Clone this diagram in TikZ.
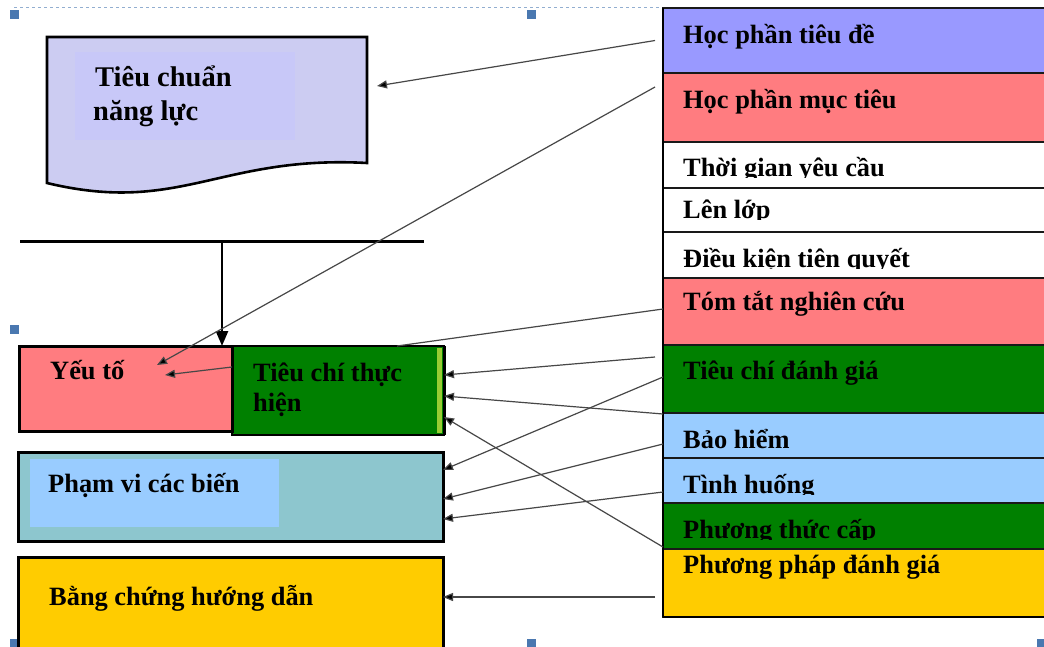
\documentclass[tikz,border=0pt]{standalone}
\usepackage{fontspec}
\setmainfont{Liberation Serif}
\usetikzlibrary{arrows.meta,calc}
\definecolor{cblue}{HTML}{9999FF}
\definecolor{cpink}{HTML}{FF7C80}
\definecolor{cgreen}{HTML}{008000}
\definecolor{clblue}{HTML}{99CCFF}
\definecolor{cyellow}{HTML}{FFCC00}
\definecolor{clav}{HTML}{CCCCF2}
\definecolor{clavin}{HTML}{C8C8F8}
\definecolor{cteal}{HTML}{8DC6CE}
\definecolor{clime}{HTML}{99CC33}
\definecolor{handleblue}{HTML}{4A78B0}
\begin{document}
\begin{tikzpicture}[x=1pt,y=-1pt,
  box/.style={rectangle,anchor=north west,inner sep=0pt,outer sep=0pt},
  row/.style={box,draw=black!90,line width=1.1pt,minimum width=390pt},
  lbl/.style={anchor=base west,inner sep=0pt,font=\fontsize{26.4}{30}\selectfont\bfseries,text=black},
  doclbl/.style={lbl,font=\fontsize{28.5}{32}\selectfont\bfseries},
  conn/.style={draw=black!72,line width=1.2pt},
  arr/.style={conn,-{Triangle[length=10pt,width=8pt,fill=black]}},
  handle/.style={rectangle,fill=handleblue,minimum size=9pt,inner sep=0pt}]
\clip (0,0) rectangle (1044,646);
\fill[white] (0,0) rectangle (1044,646);

% selection frame
\draw[handleblue!60,dashed,line width=0.9pt] (14,7) -- (1044,7);
\node[handle] (h1) at (14,14) {};
\node[handle] (h2) at (531,14) {};
\node[handle] (h3) at (1041,13) {};
\node[handle] (h4) at (14,329) {};
\node[handle] (h5) at (1041,327) {};
\node[handle] (h6) at (14,643) {};
\node[handle] (h7) at (531,643) {};
\node[handle] (h8) at (1041,643) {};

% right column
\node[row,fill=cblue,minimum height=65pt] (r1) at (663,8) {};
\node[row,fill=cpink,minimum height=69pt] (r2) at (663,73) {};
\node[row,fill=white,minimum height=46pt] (r3) at (663,142) {};
\node[row,fill=white,minimum height=44pt] (r4) at (663,188) {};
\node[row,fill=white,minimum height=46pt] (r5) at (663,232) {};
\node[row,fill=cpink,minimum height=67pt] (r6) at (663,278) {};
\node[row,fill=cgreen,minimum height=68pt] (r7) at (663,345) {};
\node[row,fill=clblue,minimum height=45pt] (r8) at (663,413) {};
\node[row,fill=clblue,minimum height=45pt] (r9) at (663,458) {};
\node[row,fill=cgreen,minimum height=46pt] (r10) at (663,503) {};
\node[row,fill=cyellow,minimum height=68pt] (r11) at (663,549) {};
\draw[line width=2.4pt] (r11.south west) -- (r11.south east);
\draw[line width=1.6pt] (r1.north west) -- (r11.south west);

\node[lbl] (t1) at (683,43) {Học phần tiêu đề};
\node[lbl] (t2) at (683,108) {Học phần mục tiêu};
\begin{scope}
\clip (663,142) rectangle (1044,177.5);
\node[lbl] (t3) at (683,176) {Thời gian yêu cầu};
\end{scope}
\begin{scope}
\clip (663,188) rectangle (1044,219.5);
\node[lbl] (t4) at (683,218) {Lên lớp};
\end{scope}
\begin{scope}
\clip (663,232) rectangle (1044,268.5);
\node[lbl] (t5) at (683,267) {Điều kiện tiên quyết};
\end{scope}
\node[lbl] (t6) at (683,310) {Tóm tắt nghiên cứu};
\node[lbl] (t7) at (683,379) {Tiêu chí đánh giá};
\node[lbl] (t8) at (683,448) {Bảo hiểm};
\begin{scope}
\clip (663,458) rectangle (1044,494.5);
\node[lbl] (t9) at (683,493) {Tình huống};
\end{scope}
\begin{scope}
\clip (663,503) rectangle (1044,539.5);
\node[lbl] (t10) at (683,538) {Phương thức cấp};
\end{scope}
\node[lbl] (t11) at (683,573) {Phương pháp đánh giá};

% document shape
\node[box,minimum width=320pt,minimum height=146pt] (doc) at (47,37) {};
\filldraw[fill=clav,draw=black,line width=2.6pt,line join=miter]
  (47,37) -- (367,37) -- (367,163) .. controls (220,155) and (180,215) .. (47,183) -- cycle;
\fill[clavin] (75,52) rectangle (295,140);
\node[doclbl] (d1) at (95,86) {Tiêu chuẩn};
\node[doclbl] (d2) at (93,120) {năng lực};

% bar and vertical arrow
\coordinate (barL) at (20,241);
\coordinate (barR) at (424,241);
\coordinate (barM) at (222,241);
\draw[line width=3pt] (barL) -- (barR);

% left boxes
\node[box,fill=cgreen,draw=black,line width=1.8pt,minimum width=212pt,minimum height=89pt] (tc) at (232,346) {};
\fill[clime] (437,348) rectangle (442,433);
\draw[line width=3pt] (tc.north east) -- (tc.south east);
\node[box,fill=cpink,draw=black,line width=3pt,minimum width=213pt,minimum height=85pt] (yeu) at (19,346) {};
\node[box,fill=cteal,draw=black,line width=3pt,minimum width=425pt,minimum height=89pt] (pv) at (18,452) {};
\fill[clblue] (30,459) rectangle (279,527);
\node[box,fill=cyellow,draw=black,line width=3pt,minimum width=425pt,minimum height=100pt] (bc) at (18,557) {};

\draw[line width=2.6pt,-{Triangle[length=15pt,width=12pt]}] (barM) -- (barM |- yeu.north);

\node[lbl] (yt) at (50,379) {Yếu tố};
\node[lbl] (tc1) at (253,381) {Tiêu chí thực};
\node[lbl] (tc2) at (253,411) {hiện};
\node[lbl] (pvt) at (48,492) {Phạm vi các biến};
\node[lbl] (bct) at (49,605) {Bằng chứng hướng dẫn};

% connectors
\draw[arr] ([xshift=-8pt]r1.west) -- ([xshift=10pt,yshift=24pt]doc.east);
\draw[arr] ([xshift=-8pt,yshift=20.5pt]r2.west) -- ([xshift=138pt,yshift=-19pt]yeu.north west);
\draw[arr] ([yshift=-21pt]tc.north west) -- ([xshift=146pt,yshift=-29pt]yeu.north west);
\draw[conn] ([yshift=-31pt]r6.north west) -- ([xshift=165pt]tc.north west);
\draw[arr] ([xshift=-8pt,yshift=-12pt]r7.north west) -- ([yshift=-29pt]tc.north east);
\draw[arr] ([yshift=-1pt]r8.north west) -- ([yshift=-50pt]tc.north east);
\draw[arr] ([yshift=2pt]r11.north west) -- ([yshift=-71pt]tc.north east);
\draw[arr] ([yshift=-32pt]r7.north west) -- ([yshift=-18pt]pv.north east);
\draw[arr] ([yshift=-31pt]r8.north west) -- ([yshift=-47pt]pv.north east);
\draw[arr] ([yshift=-34pt]r9.north west) -- ([yshift=-67pt]pv.north east);
\draw[arr] ([xshift=-8pt,yshift=-48pt]r11.north west) -- ([yshift=-40pt]bc.north east);
\end{tikzpicture}
\end{document}
